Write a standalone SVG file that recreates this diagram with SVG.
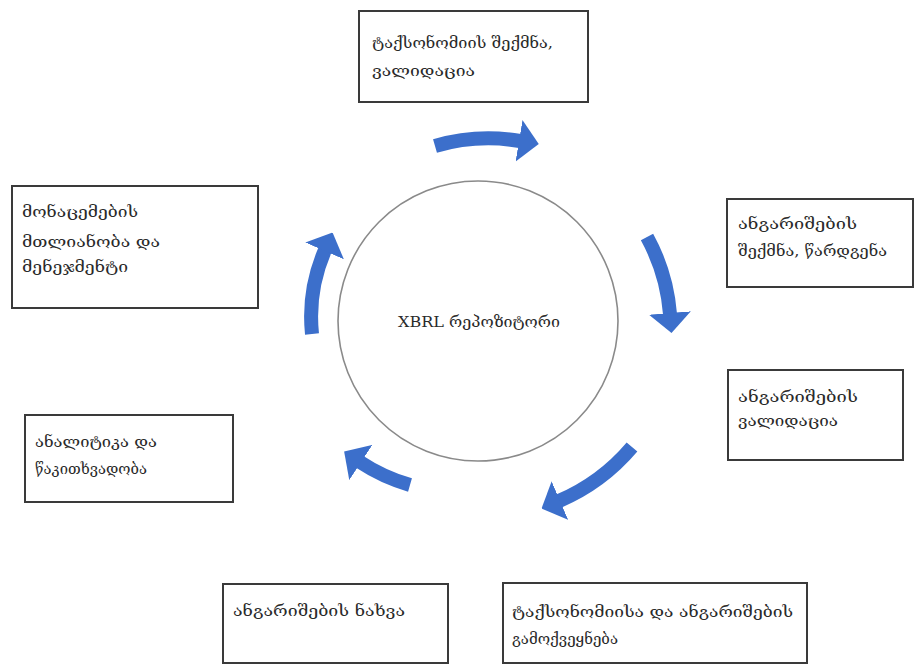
<svg xmlns="http://www.w3.org/2000/svg" width="915" height="666" viewBox="0 0 915 666">
  <style>
    .box { fill: #ffffff; stroke: #3a3a3a; stroke-width: 2; }
    .lbl { font-family: "DejaVu Serif", "DejaVu Sans", serif; font-size: 14px; fill: #2a2a2a; }
    .flow { fill: none; stroke: #3c6fcb; stroke-width: 14; stroke-linecap: butt; marker-end: url(#head); }
  </style>
  <defs>
    <marker id="head" markerUnits="userSpaceOnUse" markerWidth="20" markerHeight="42" viewBox="0 0 20 42" refX="1" refY="21" orient="auto">
      <path d="M0,0 L20,21 L0,42 Z" fill="#3c6fcb"/>
    </marker>
  </defs>
  <rect width="915" height="666" fill="#ffffff"/>

  <!-- central repository -->
  <g id="hub">
    <circle cx="478" cy="321" r="140" fill="#ffffff" stroke="#8a8a8a" stroke-width="1.6"/>
    <text class="lbl" x="398" y="327" textLength="162" lengthAdjust="spacingAndGlyphs">XBRL რეპოზიტორი</text>
  </g>

  <!-- cycle arrows -->
  <g id="connectors">
    <path class="flow" d="M435,146 A192,192 0 0 1 520,141"/>
    <path class="flow" d="M647,237 A192,192 0 0 1 670,314"/>
    <path class="flow" d="M632,447 A198,198 0 0 1 559,501"/>
    <path class="flow" d="M410,485 A182,182 0 0 1 360,462"/>
    <path class="flow" d="M312,334 A168,168 0 0 1 325,250"/>
  </g>

  <g id="taxonomy">
    <rect class="box" x="359" y="11" width="229" height="91"/>
    <text class="lbl" x="372" y="48" textLength="181" lengthAdjust="spacingAndGlyphs">ტაქსონომიის შექმნა,</text>
    <text class="lbl" x="372" y="76" textLength="103" lengthAdjust="spacingAndGlyphs">ვალიდაცია</text>
  </g>

  <g id="create-report">
    <rect class="box" x="727" y="199" width="186" height="88"/>
    <text class="lbl" x="738" y="229" textLength="119" lengthAdjust="spacingAndGlyphs">ანგარიშების</text>
    <text class="lbl" x="738" y="256" textLength="149" lengthAdjust="spacingAndGlyphs">შექმნა, წარდგენა</text>
  </g>

  <g id="validate-report">
    <rect class="box" x="728" y="370" width="175" height="90"/>
    <text class="lbl" x="738" y="402" textLength="120" lengthAdjust="spacingAndGlyphs">ანგარიშების</text>
    <text class="lbl" x="738" y="426" textLength="100" lengthAdjust="spacingAndGlyphs">ვალიდაცია</text>
  </g>

  <g id="publish">
    <rect class="box" x="503" y="583" width="304" height="80"/>
    <text class="lbl" x="512" y="617" textLength="281" lengthAdjust="spacingAndGlyphs">ტაქსონომიისა და ანგარიშების</text>
    <text class="lbl" x="512" y="644" textLength="106" lengthAdjust="spacingAndGlyphs">გამოქვეყნება</text>
  </g>

  <g id="view-report">
    <rect class="box" x="223" y="584" width="225" height="79"/>
    <text class="lbl" x="233" y="616" textLength="172" lengthAdjust="spacingAndGlyphs">ანგარიშების ნახვა</text>
  </g>

  <g id="analytics">
    <rect class="box" x="25" y="415" width="208" height="87"/>
    <text class="lbl" x="35" y="447" textLength="122" lengthAdjust="spacingAndGlyphs">ანალიტიკა და</text>
    <text class="lbl" x="35" y="474" textLength="112" lengthAdjust="spacingAndGlyphs">წაკითხვადობა</text>
  </g>

  <g id="data-management">
    <rect class="box" x="12" y="186" width="246" height="122"/>
    <text class="lbl" x="22" y="217" textLength="116" lengthAdjust="spacingAndGlyphs">მონაცემების</text>
    <text class="lbl" x="22" y="247" textLength="138" lengthAdjust="spacingAndGlyphs">მთლიანობა და</text>
    <text class="lbl" x="22" y="272" textLength="106" lengthAdjust="spacingAndGlyphs">მენეჯმენტი</text>
  </g>
</svg>
